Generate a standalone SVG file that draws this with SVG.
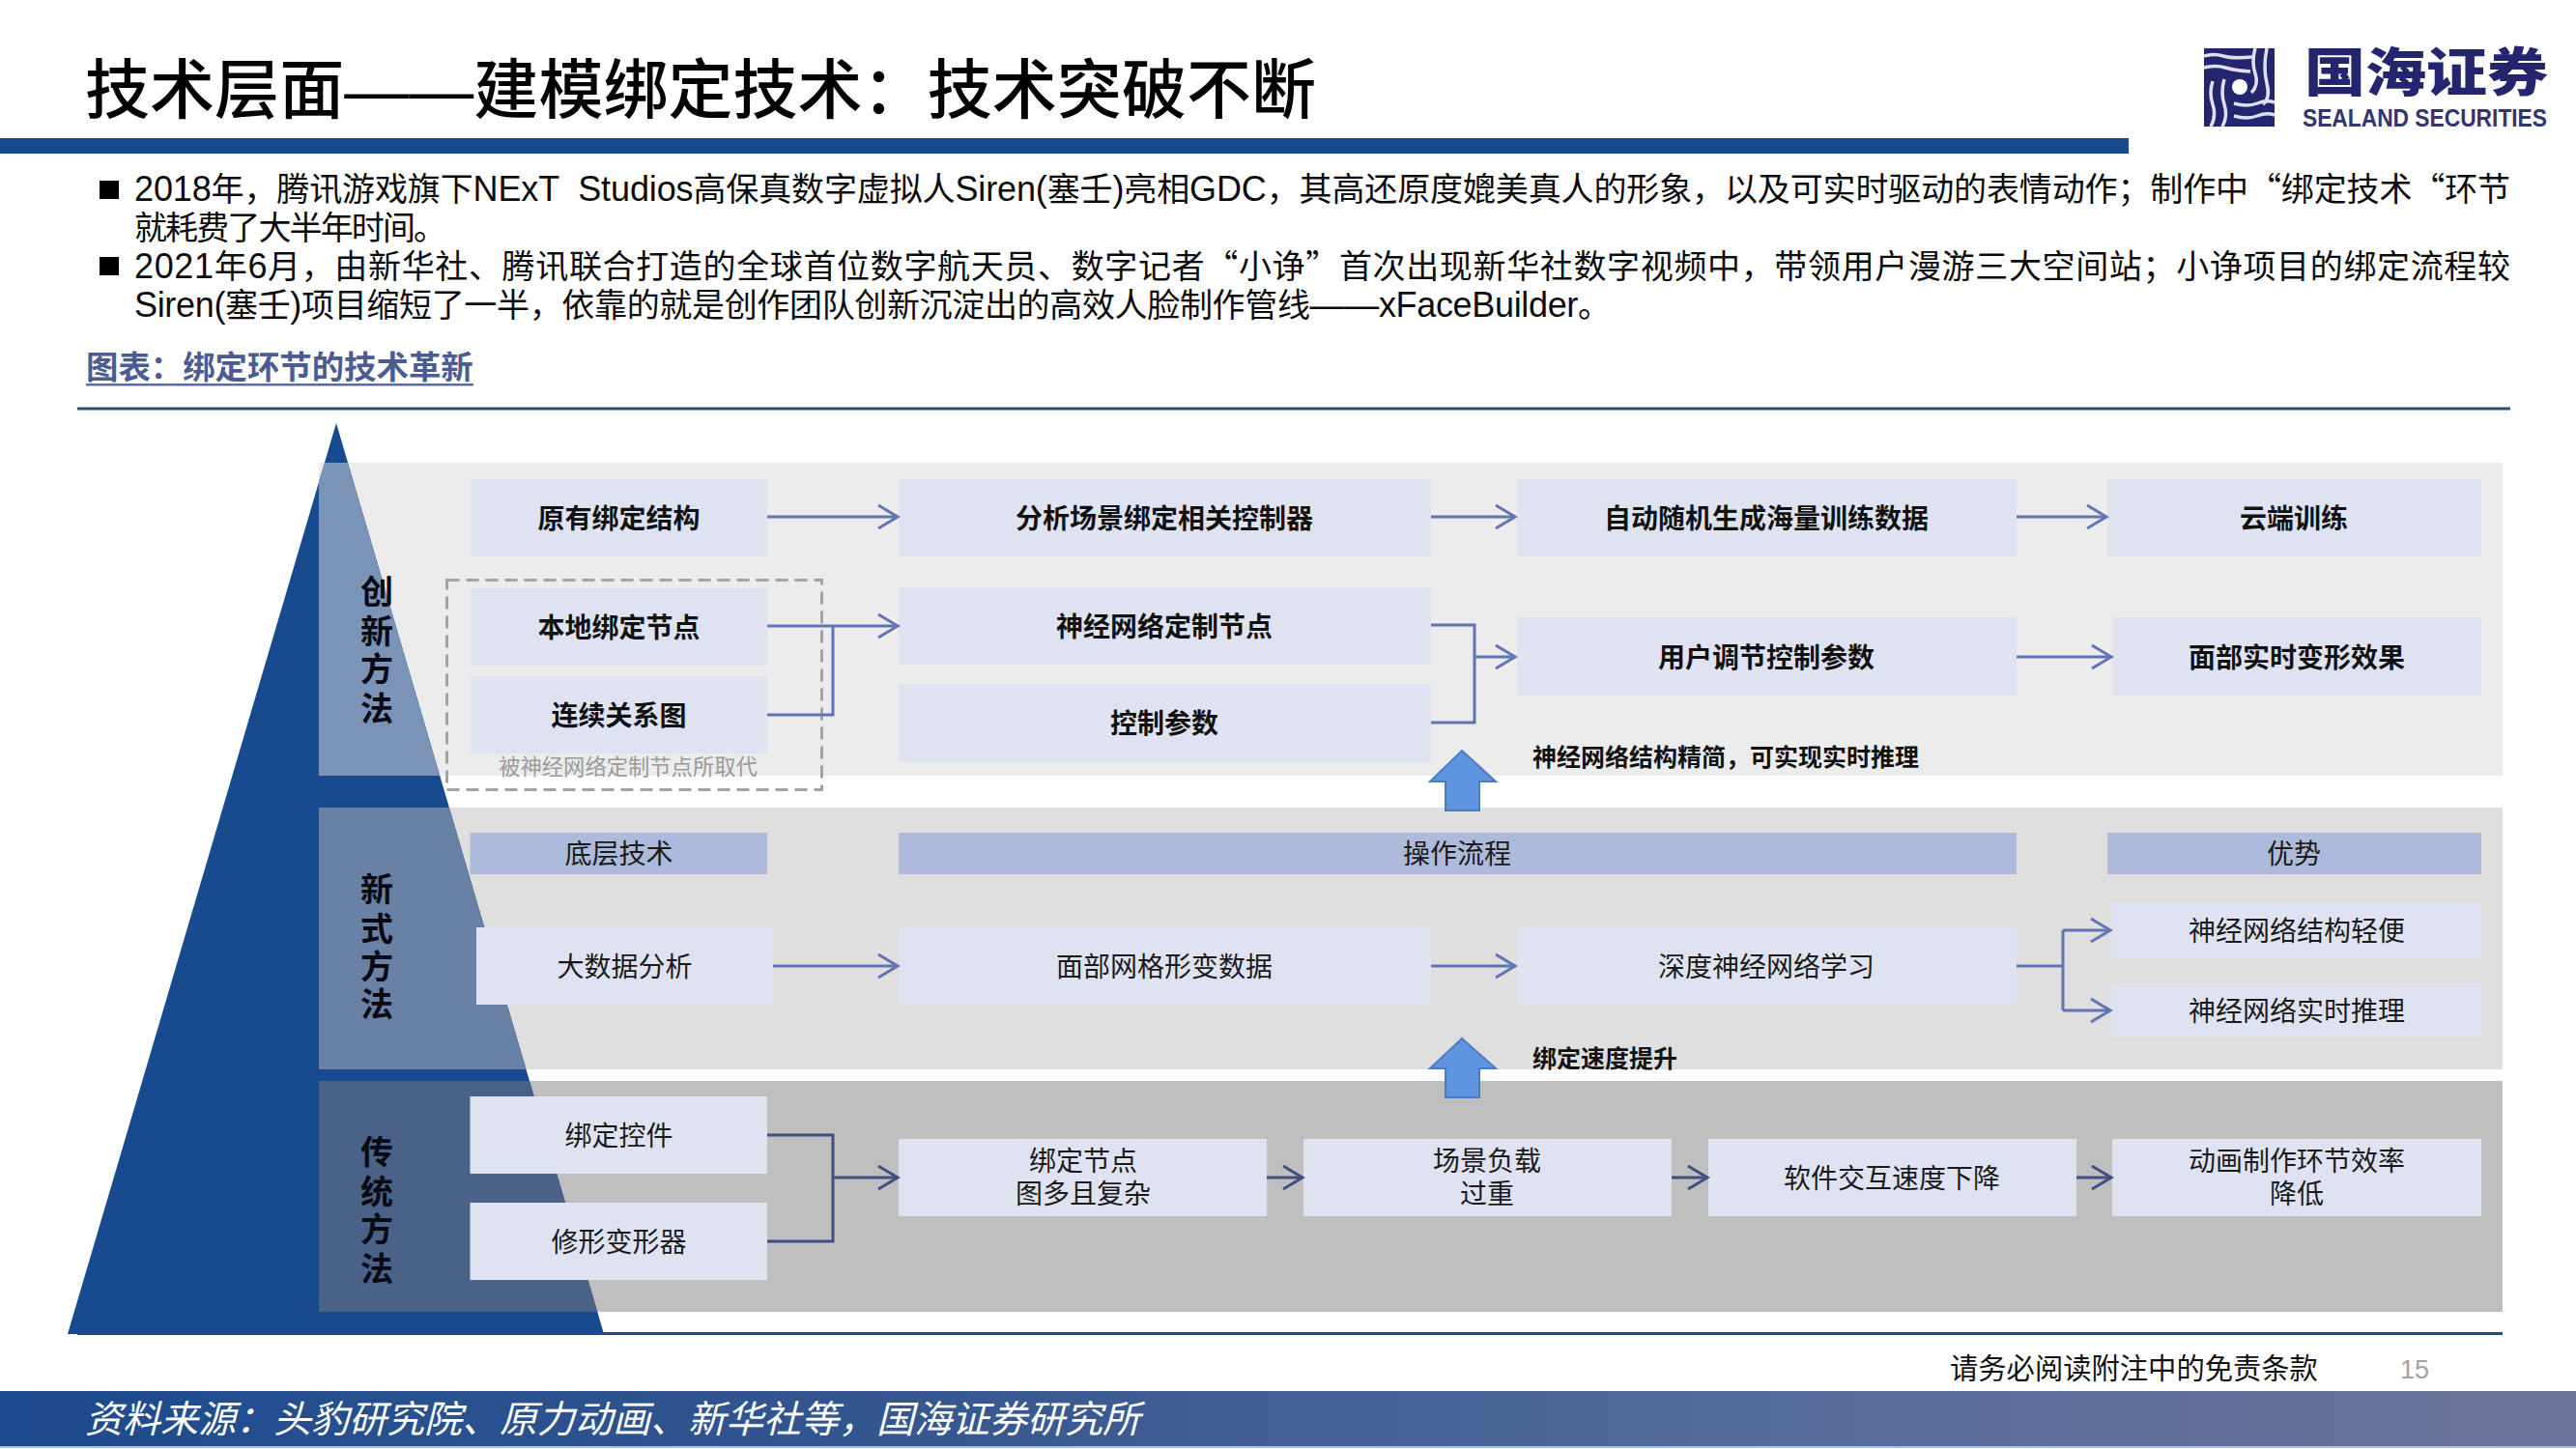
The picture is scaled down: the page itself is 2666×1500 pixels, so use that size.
<svg xmlns="http://www.w3.org/2000/svg" width="2666" height="1500" viewBox="0 0 2666 1500">
<style>
text{font-family:"Liberation Sans","Noto Sans CJK SC",sans-serif;fill:#111}
.c{font-family:"Noto Sans CJK SC",sans-serif}
.b{fill:#dfe3f1}
.h{fill:#aebadb}
.t{font-size:28px;text-anchor:middle;font-family:"Noto Sans CJK SC",sans-serif;font-weight:400;fill:#1a1a1a}
.tb{font-size:28px;text-anchor:middle;font-family:"Noto Sans CJK SC",sans-serif;font-weight:700;fill:#111}
.s{font-size:34px;text-anchor:middle;font-family:"Noto Sans CJK SC",sans-serif;font-weight:700;fill:#0a0a14}
.body{font-size:34px;fill:#0c0c0c}
.l{font-size:36px}
.note{font-size:25px;font-family:"Noto Sans CJK SC",sans-serif;font-weight:700;fill:#111}
.cn{fill:none;stroke:#5f75b5;stroke-width:3}
.cd{fill:none;stroke:#3f4f82;stroke-width:3}
.up{fill:#5f95e0;stroke:#4c7cc0;stroke-width:2}
</style>
<defs>
<marker id="a" markerUnits="userSpaceOnUse" markerWidth="26" markerHeight="30" viewBox="-23 -15 26 30" refX="0" refY="0" orient="auto"><path d="M-20-12L0 0L-20 12" fill="none" stroke="#5f75b5" stroke-width="3"/></marker>
<marker id="d" markerUnits="userSpaceOnUse" markerWidth="26" markerHeight="30" viewBox="-23 -15 26 30" refX="0" refY="0" orient="auto"><path d="M-20-12L0 0L-20 12" fill="none" stroke="#3f4f82" stroke-width="3"/></marker>
<linearGradient id="fg" x1="0" x2="1" y1="0" y2="0"><stop offset="0" stop-color="#1c4a8e"/><stop offset="0.35" stop-color="#35568f"/><stop offset="0.7" stop-color="#566b9d"/><stop offset="1" stop-color="#6e7499"/></linearGradient>
<clipPath id="tri"><polygon points="348,438 625,1381 70,1381"/></clipPath>
</defs>
<rect width="2666" height="1500" fill="#fff"/>

<g id="header">
<text x="88" y="117" font-size="67" font-weight="500" textLength="1274" style="font-family:'Liberation Sans','Noto Sans CJK SC',sans-serif;fill:#000">技术层面——建模绑定技术：技术突破不断</text>
<rect x="0" y="143" width="2203" height="16" fill="#174a8f"/>
</g>

<g id="logo">
<rect x="2281" y="50" width="73" height="81" fill="#23256f"/>
<g fill="none" stroke="#dfe0f2" stroke-width="3.500">
<path d="M2281 58q10-3 20 0t30 1"/><path d="M2281 70q12-3 22 0t26 4"/>
<path d="M2334 50q-4 14 0 26t-4 20"/><path d="M2346 50q-4 20 0 36t-4 22"/>
<path d="M2290 84q-4 12 0 24t-2 23"/><path d="M2302 82q-4 14 0 26t-2 23"/>
<path d="M2312 107q14 4 24 0t18-1"/><path d="M2312 120q14 4 24 0t18-1"/>
</g>
<circle cx="2318" cy="90" r="8" fill="#fff"/>
<text x="2385" y="95" font-size="54" font-weight="900" textLength="252" lengthAdjust="spacingAndGlyphs" class="c" style="fill:#23256f">国海证券</text>
<text x="2383" y="131" font-size="25" font-weight="700" textLength="253" lengthAdjust="spacingAndGlyphs" style="fill:#33356f">SEALAND SECURITIES</text>
</g>

<g id="bullets">
<rect x="103" y="187" width="20" height="19" fill="#000"/>
<rect x="103" y="266" width="20" height="19" fill="#000"/>
<text class="body" x="139" y="208" textLength="2459" xml:space="preserve"><tspan class="l">2018</tspan>年，腾讯游戏旗下<tspan class="l">NExT  Studios</tspan>高保真数字虚拟人<tspan class="l">Siren(</tspan>塞壬<tspan class="l">)</tspan>亮相<tspan class="l">GDC</tspan>，其高还原度媲美真人的形象，以及可实时驱动的表情动作；制作中<tspan class="c">“</tspan>绑定技术<tspan class="c">“</tspan>环节</text>
<text class="body" x="139" y="248" textLength="323">就耗费了大半年时间。</text>
<text class="body" x="139" y="288" textLength="2459"><tspan class="l">2021</tspan>年<tspan class="l">6</tspan>月，由新华社、腾讯联合打造的全球首位数字航天员、数字记者<tspan class="c">“</tspan>小诤<tspan class="c">”</tspan>首次出现新华社数字视频中，带领用户漫游三大空间站；小诤项目的绑定流程较</text>
<text class="body" x="139" y="328" textLength="1528"><tspan class="l">Siren(</tspan>塞壬<tspan class="l">)</tspan>项目缩短了一半，依靠的就是创作团队创新沉淀出的高效人脸制作管线<tspan class="l">——xFaceBuilder</tspan>。</text>
</g>

<g id="chart-title">
<text x="89" y="392" font-size="33.400" font-weight="700" class="c" style="fill:#4a5c92">图表：绑定环节的技术革新</text>
<rect x="89" y="397" width="401" height="2.500" fill="#5a6ea5"/>
<rect x="80" y="421.500" width="2518" height="3" fill="#2c4a8c"/>
</g>

<g id="pyramid">
<rect x="330" y="479" width="2260" height="324" fill="#ececec"/>
<rect x="330" y="836" width="2260" height="271" fill="#dfdfdf"/>
<rect x="330" y="1119" width="2260" height="239" fill="#bfbfbf"/>
<polygon points="348,438 625,1381 70,1381" fill="#174a8f"/>
<g clip-path="url(#tri)">
<rect x="330" y="479" width="400" height="324" fill="#7a93b6"/>
<rect x="330" y="836" width="400" height="271" fill="#6a81a6"/>
<rect x="330" y="1119" width="400" height="239" fill="#4b6288"/>
</g>
<rect x="80" y="1379" width="2510" height="3" fill="#1f4a8c"/>
<text class="s"><tspan x="390" y="625">创</tspan><tspan x="390" y="666">新</tspan><tspan x="390" y="705">方</tspan><tspan x="390" y="746">法</tspan></text>
<text class="s"><tspan x="390" y="933">新</tspan><tspan x="390" y="974">式</tspan><tspan x="390" y="1013">方</tspan><tspan x="390" y="1052">法</tspan></text>
<text class="s"><tspan x="390" y="1205">传</tspan><tspan x="390" y="1246">统</tspan><tspan x="390" y="1285">方</tspan><tspan x="390" y="1326">法</tspan></text>
</g>

<g id="nodes-innovative">
<g id="n1"><rect class="b" x="486.500" y="496" width="307.500" height="80"/><text class="tb" x="640.500" y="547">原有绑定结构</text></g>
<g id="n2"><rect class="b" x="930" y="496" width="551" height="80"/><text class="tb" x="1205" y="547">分析场景绑定相关控制器</text></g>
<g id="n3"><rect class="b" x="1570" y="496" width="517" height="80"/><text class="tb" x="1828" y="547">自动随机生成海量训练数据</text></g>
<g id="n4"><rect class="b" x="2181" y="496" width="387" height="80"/><text class="tb" x="2374" y="547">云端训练</text></g>
<g id="n5"><rect class="b" x="486.500" y="609" width="307.500" height="80"/><text class="tb" x="640.500" y="660">本地绑定节点</text></g>
<g id="n6"><rect class="b" x="486.500" y="700" width="307.500" height="80"/><text class="tb" x="640.500" y="751">连续关系图</text></g>
<g id="n7"><rect class="b" x="930" y="608" width="551" height="80"/><text class="tb" x="1205" y="659">神经网络定制节点</text></g>
<g id="n8"><rect class="b" x="930" y="708" width="551" height="81"/><text class="tb" x="1205" y="759">控制参数</text></g>
<g id="n9"><rect class="b" x="1570" y="639" width="517" height="81"/><text class="tb" x="1828" y="691">用户调节控制参数</text></g>
<g id="n10"><rect class="b" x="2186" y="639" width="382" height="81"/><text class="tb" x="2377" y="691">面部实时变形效果</text></g>
<g id="replaced"><rect x="462.500" y="600.500" width="388" height="217" fill="none" stroke="#a3a3a3" stroke-width="3" stroke-dasharray="13 7"/><text x="650" y="802" font-size="22.300" text-anchor="middle" class="c" style="fill:#9a9a9a">被神经网络定制节点所取代</text></g>
</g>

<g id="nodes-new">
<g id="n11"><rect class="h" x="486.500" y="862" width="307.500" height="43"/><text class="t" x="640.500" y="894">底层技术</text></g>
<g id="n12"><rect class="h" x="930" y="862" width="1157" height="43"/><text class="t" x="1508" y="894">操作流程</text></g>
<g id="n13"><rect class="h" x="2181" y="862" width="387" height="43"/><text class="t" x="2374" y="894">优势</text></g>
<g id="n14"><rect class="b" x="493" y="960" width="307" height="80"/><text class="t" x="646.500" y="1011">大数据分析</text></g>
<g id="n15"><rect class="b" x="930" y="960" width="551" height="80"/><text class="t" x="1205" y="1011">面部网格形变数据</text></g>
<g id="n16"><rect class="b" x="1570" y="960" width="517" height="80"/><text class="t" x="1828" y="1011">深度神经网络学习</text></g>
<g id="n17"><rect class="b" x="2185" y="935" width="383" height="57"/><text class="t" x="2377" y="974">神经网络结构轻便</text></g>
<g id="n18"><rect class="b" x="2185" y="1018" width="383" height="55"/><text class="t" x="2377" y="1057">神经网络实时推理</text></g>
</g>

<g id="nodes-traditional">
<g id="n19"><rect class="b" x="486.500" y="1135" width="307.500" height="80"/><text class="t" x="640.500" y="1186">绑定控件</text></g>
<g id="n20"><rect class="b" x="486.500" y="1245" width="307.500" height="80"/><text class="t" x="640.500" y="1296">修形变形器</text></g>
<g id="n21"><rect class="b" x="930" y="1179" width="381" height="80"/><text class="t" x="1121" y="1212">绑定节点</text><text class="t" x="1121" y="1246">图多且复杂</text></g>
<g id="n22"><rect class="b" x="1349" y="1179" width="381" height="80"/><text class="t" x="1539" y="1212">场景负载</text><text class="t" x="1539" y="1246">过重</text></g>
<g id="n23"><rect class="b" x="1768" y="1179" width="381" height="80"/><text class="t" x="1958" y="1230">软件交互速度下降</text></g>
<g id="n24"><rect class="b" x="2186" y="1179" width="382" height="80"/><text class="t" x="2377" y="1212">动画制作环节效率</text><text class="t" x="2377" y="1246">降低</text></g>
</g>

<g id="connectors">
<path class="cn" marker-end="url(#a)" d="M794 535H929"/>
<path class="cn" marker-end="url(#a)" d="M1481 535H1568"/>
<path class="cn" marker-end="url(#a)" d="M2087 535H2180"/>
<path class="cn" marker-end="url(#a)" d="M794 648H929"/>
<path class="cn" d="M794 740H862V648"/>
<path class="cn" d="M1481 647H1526V748H1481"/>
<path class="cn" marker-end="url(#a)" d="M1526 680H1568"/>
<path class="cn" marker-end="url(#a)" d="M2087 680H2185"/>
<path class="cn" marker-end="url(#a)" d="M800 1000H929"/>
<path class="cn" marker-end="url(#a)" d="M1481 1000H1568"/>
<path class="cn" d="M2087 1000H2135M2135 963V1046"/>
<path class="cn" marker-end="url(#a)" d="M2135 963H2184"/>
<path class="cn" marker-end="url(#a)" d="M2135 1046H2184"/>
<path class="cd" d="M794 1175H862V1285H794"/>
<path class="cd" marker-end="url(#d)" d="M862 1219H929"/>
<path class="cd" marker-end="url(#d)" d="M1311 1219H1348"/>
<path class="cd" marker-end="url(#d)" d="M1730 1219H1767"/>
<path class="cd" marker-end="url(#d)" d="M2149 1219H2185"/>
<polygon class="up" points="1513,777 1548,809 1531,809 1531,839 1496,839 1496,809 1480,809"/>
<polygon class="up" points="1513,1075 1548,1106 1531,1106 1531,1136 1496,1136 1496,1106 1480,1106"/>
</g>
<text class="note" x="1586" y="793">神经网络结构精简，可实现实时推理</text>
<text class="note" x="1586" y="1105">绑定速度提升</text>

<g id="footer">
<text x="2018" y="1427" font-size="29.300" class="c">请务必阅读附注中的免责条款</text>
<text x="2484" y="1427" font-size="27" style="fill:#a3a3a3">15</text>
<rect x="0" y="1440" width="2666" height="57" fill="url(#fg)"/>
<rect x="0" y="1497" width="2666" height="2" fill="#a9c0e4"/>
<text x="88" y="1483" font-size="39" font-style="italic" class="c" style="fill:#fff">资料来源：头豹研究院、原力动画、新华社等，国海证券研究所</text>
</g>
</svg>
